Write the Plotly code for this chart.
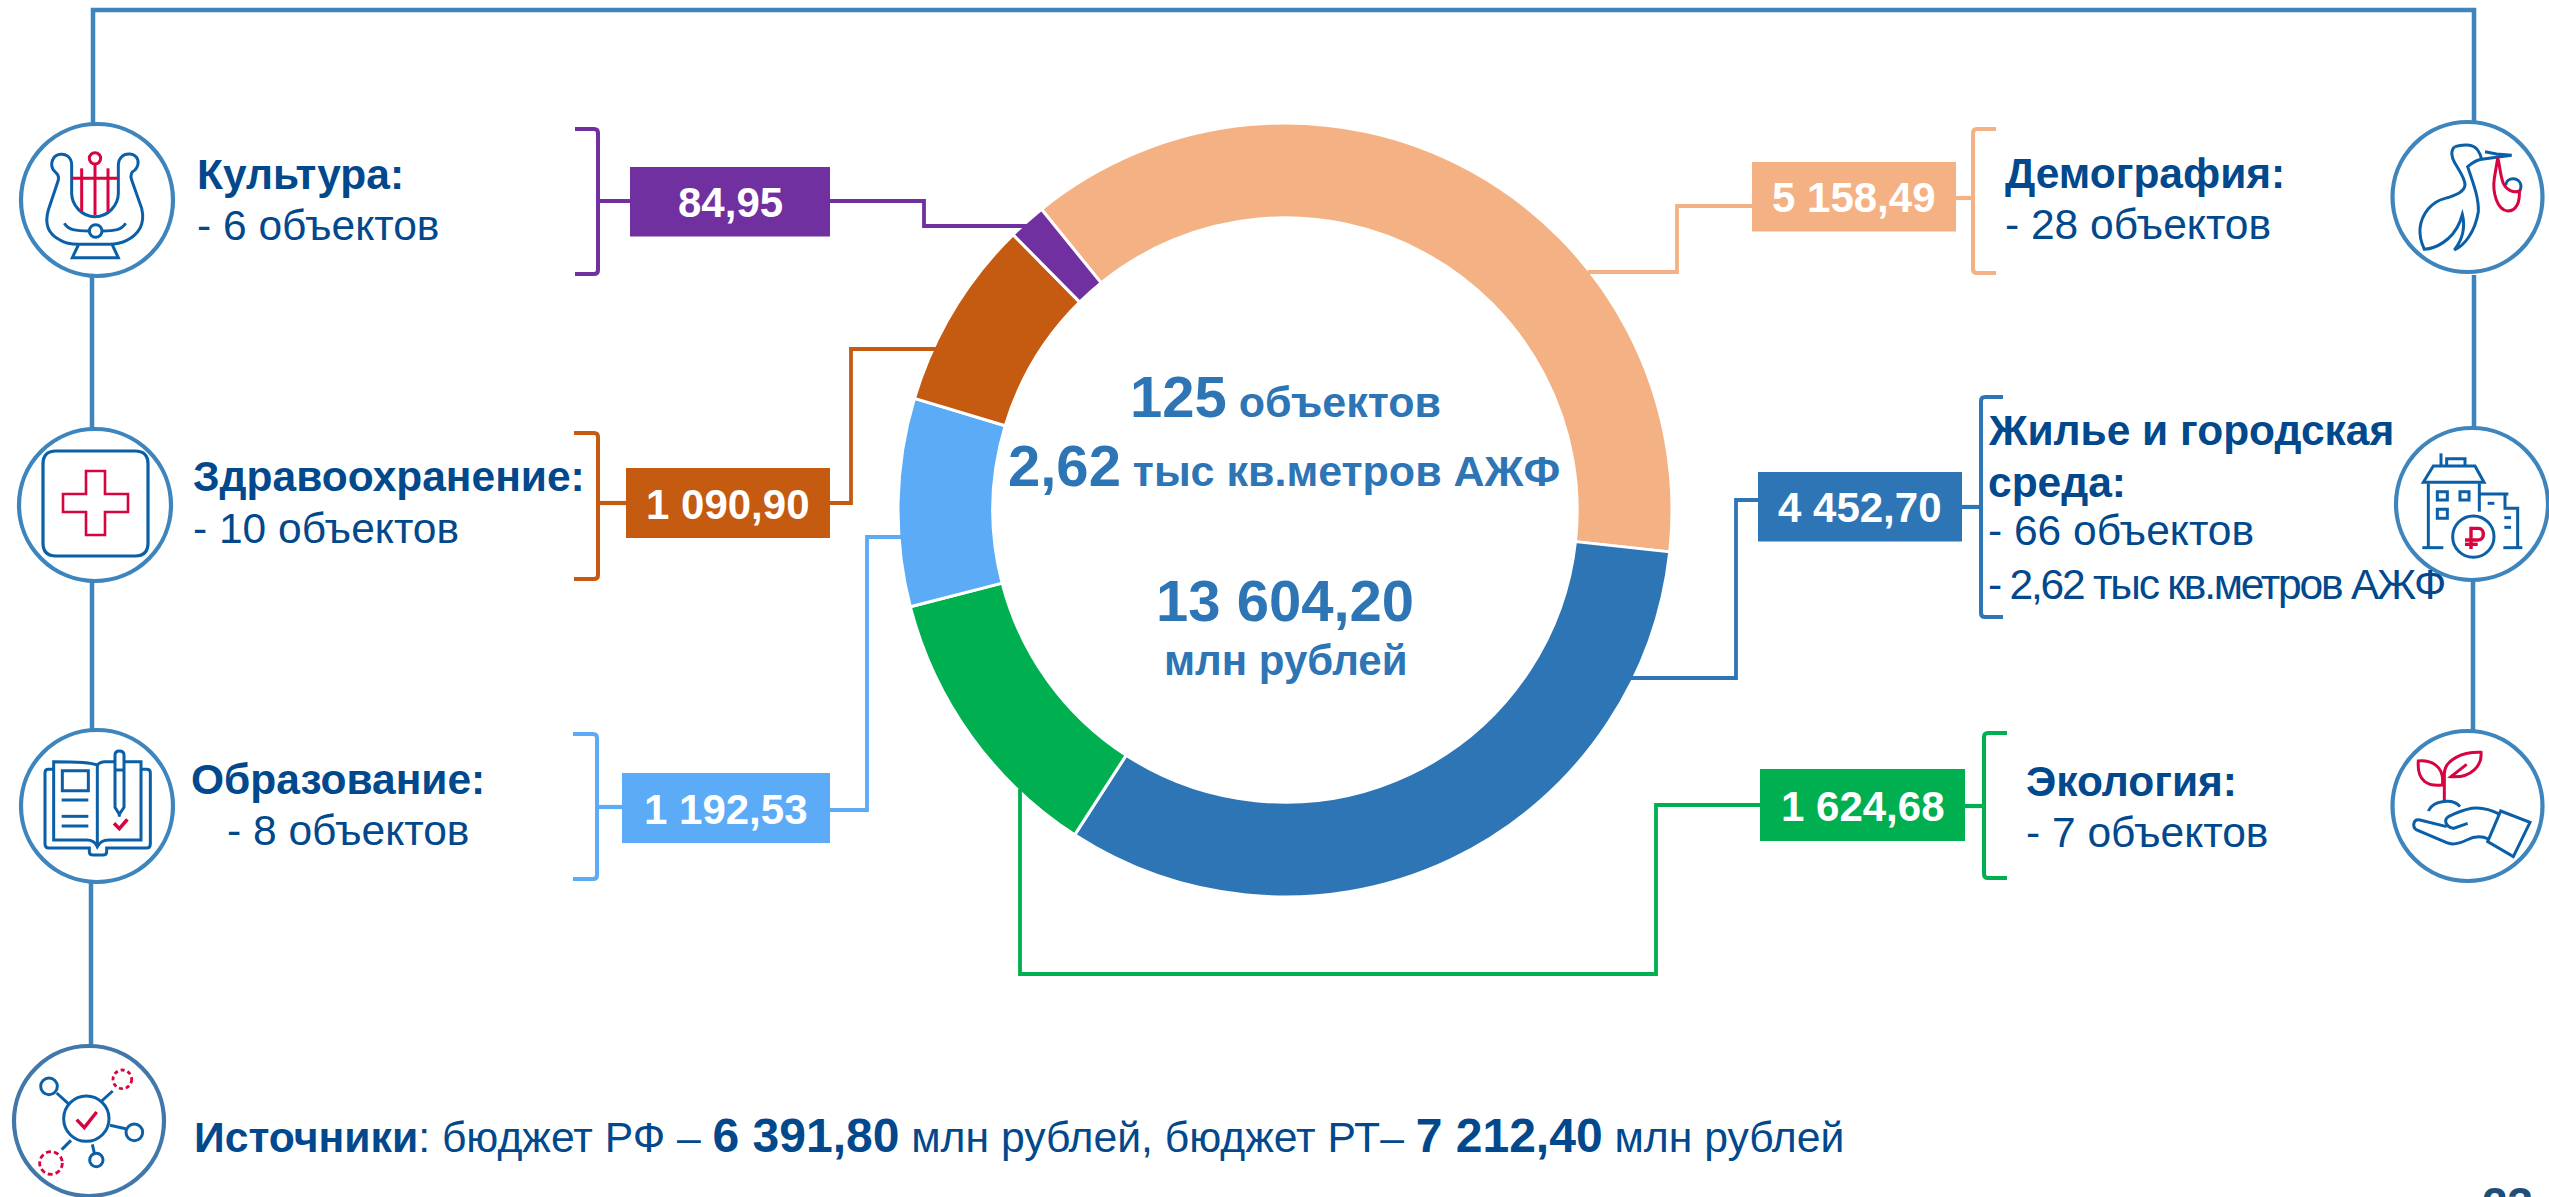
import plotly.graph_objects as go

# ---------- data ----------
categories = ["Демография", "Жилье и городская среда", "Экология", "Образование", "Здравоохранение", "Культура"]
# sums printed on the slide
values = [5158.49, 4452.70, 1624.68, 1192.53, 1090.90, 84.95]
value_labels = ["5 158,49", "4 452,70", "1 624,68", "1 192,53", "1 090,90", "84,95"]
# arcs as measured on the picture: the "Культура" arc is visibly wider than its printed sum
arc_values = [5158.49, 4452.70, 1624.68, 1192.53, 1090.90, 215.0]
object_counts = [28, 66, 7, 8, 10, 6]
total_objects = "125"
total_area = "2,62"
total_label = "13 604,20"
budget_rf = "6 391,80"
budget_rt = "7 212,40"
page_number = "23"

# ---------- style / layout ----------
W, H = 2549, 1197
FONT = "Liberation Sans"
colors = ["#F4B183", "#2E75B6", "#00B050", "#5BABF6", "#C55A11", "#7030A0"]
TXT = "#02488C"
CENTER = "#2E75B6"
FRAME = "#3D85BC"
ICON = "#0B5FA6"
RED = "#D8043F"
SIDE = 42.5

cx, cy, R = 1285, 510, 387
shapes, annos = [], []


def X(v):
    return v / W


def Y(v):
    return 1 - v / H


def line(pts, color, width=3):
    d = "M" + " L".join(f"{X(a):.6f},{Y(b):.6f}" for a, b in pts)
    shapes.append(dict(type="path", xref="paper", yref="paper", path=d,
                       line=dict(color=color, width=width)))


def rect(x0, y0, x1, y1, fill):
    shapes.append(dict(type="rect", xref="paper", yref="paper", x0=X(x0), x1=X(x1),
                       y0=Y(y1), y1=Y(y0), fillcolor=fill, line=dict(width=0)))


def circle(a, b, r, color, width=4.2, dash="solid"):
    shapes.append(dict(type="circle", xref="paper", yref="paper", x0=X(a - r), x1=X(a + r),
                       y0=Y(b + r), y1=Y(b - r), line=dict(color=color, width=width, dash=dash)))


def text(x, y, s, size=SIDE, color=TXT, anchor="left", bold=False):
    annos.append(dict(xref="paper", yref="paper", x=X(x), y=Y(y), text=f"<b>{s}</b>" if bold else s,
                      showarrow=False, xanchor=anchor, yanchor="middle",
                      font=dict(family=FONT, size=size, color=color), borderpad=0, borderwidth=0))


def bracket_left_open(x0, x1, y0, y1, color):
    """bracket whose spine is on the right side"""
    d = (f"M{X(x0)},{Y(y0)} L{X(x1-4)},{Y(y0)} Q{X(x1)},{Y(y0)} {X(x1)},{Y(y0+4)} "
         f"L{X(x1)},{Y(y1-4)} Q{X(x1)},{Y(y1)} {X(x1-4)},{Y(y1)} L{X(x0)},{Y(y1)}")
    shapes.append(dict(type="path", xref="paper", yref="paper", path=d, line=dict(color=color, width=4)))


def bracket_right_open(x0, x1, y0, y1, color):
    """bracket whose spine is on the left side"""
    d = (f"M{X(x1)},{Y(y0)} L{X(x0+4)},{Y(y0)} Q{X(x0)},{Y(y0)} {X(x0)},{Y(y0+4)} "
         f"L{X(x0)},{Y(y1-4)} Q{X(x0)},{Y(y1)} {X(x0+4)},{Y(y1)} L{X(x1)},{Y(y1)}")
    shapes.append(dict(type="path", xref="paper", yref="paper", path=d, line=dict(color=color, width=4)))


def glyph(ox, oy, path, color=ICON, width=3.0):
    """path is written in 3x-local units, relative to (ox, oy)"""
    out = []
    for tok in path.replace(",", " ").split():
        if tok[0].isalpha():
            out.append(tok[0])
            tok = tok[1:]
            if not tok:
                continue
        out.append(tok)
    res, is_x = [], True
    for tok in out:
        if tok.isalpha():
            res.append(tok)
            is_x = True
        else:
            v = float(tok) / 3
            res.append(f"{X(ox + v):.6f}" if is_x else f"{Y(oy + v):.6f}")
            is_x = not is_x
    shapes.append(dict(type="path", xref="paper", yref="paper", path=" ".join(res),
                       line=dict(color=color, width=width)))


def gcircle(ox, oy, a, b, r, color=ICON, width=3.0, dash="solid"):
    circle(ox + a / 3, oy + b / 3, r / 3, color, width, dash)


def grect(ox, oy, a0, b0, a1, b1, color=ICON, width=3.0):
    glyph(ox, oy, f"M{a0} {b0} L{a1} {b0} L{a1} {b1} L{a0} {b1} Z", color, width)


# ---------- frame ----------
line([(93, 124), (93, 10), (2474, 10), (2474, 122)], FRAME, 4.5)
line([(92, 277), (92, 428)], FRAME, 4.5)
line([(92, 582), (92, 729)], FRAME, 4.5)
line([(91, 883), (91, 1046)], FRAME, 4.5)
line([(2474, 275), (2474, 428)], FRAME, 4.5)
line([(2473, 581), (2473, 730)], FRAME, 4.5)

circle(97, 200, 76, FRAME)
circle(95, 505, 76, FRAME)
circle(97, 806, 76, FRAME)
circle(89, 1121, 75, "#4278A9")
circle(2467.5, 197, 75, FRAME)
circle(2472, 504, 76, FRAME)
circle(2467.5, 806, 75, FRAME)

# ---------- connectors, brackets, value boxes ----------
i_dem, i_hou, i_eco, i_edu, i_hea, i_cul = range(6)

boxes = {
    i_cul: (630, 167, 830, 236.5),
    i_hea: (626, 468, 830, 538),
    i_edu: (622, 773, 830, 843),
    i_dem: (1752, 162, 1956, 231.5),
    i_hou: (1758, 472, 1962, 541.5),
    i_eco: (1760, 769, 1965, 841),
}
conn = {
    i_cul: [(830, 201), (924, 201), (924, 226), (1029, 226)],
    i_hea: [(830, 503), (851, 503), (851, 349), (937, 349)],
    i_edu: [(830, 810), (867, 810), (867, 537), (901, 537)],
    i_dem: [(1752, 206), (1677, 206), (1677, 272), (1588, 272)],
    i_hou: [(1758, 500), (1736, 500), (1736, 678), (1631, 678)],
    i_eco: [(1760, 805), (1656, 805), (1656, 974), (1020, 974), (1020, 789)],
}
stub = {
    i_cul: [(598, 201), (630, 201)],
    i_hea: [(598, 503), (626, 503)],
    i_edu: [(597, 807), (622, 807)],
    i_dem: [(1956, 198), (1973, 198)],
    i_hou: [(1962, 507), (1981, 507)],
    i_eco: [(1965, 806), (1984, 806)],
}
for k in range(6):
    line(conn[k], colors[k], 3.8)
    line(stub[k], colors[k], 4.2)
    rect(*boxes[k], colors[k])
    b = boxes[k]
    text((b[0] + b[2]) / 2, (b[1] + b[3]) / 2 + 1, value_labels[k], 42, "#FFFFFF", "center", True)

bracket_left_open(575, 598, 129, 274, colors[i_cul])
bracket_left_open(574, 598, 433, 579, colors[i_hea])
bracket_left_open(573, 597, 734, 879, colors[i_edu])
bracket_right_open(1973, 1996, 129, 273, colors[i_dem])
bracket_right_open(1981, 2003, 397, 617, colors[i_hou])
bracket_right_open(1984, 2007, 733, 878, colors[i_eco])

# ---------- side labels ----------
obj = lambda n: f"- {n} объектов"
text(197, 174, f"<b>{categories[i_cul]}:</b>")
text(197, 225, obj(object_counts[i_cul]))
text(193, 476, f"<b>{categories[i_hea]}:</b>")
text(193, 528, obj(object_counts[i_hea]))
text(191, 779, "<b>Образование:</b>")
text(227, 830, obj(object_counts[i_edu]))
text(2005, 173, f"<b>{categories[i_dem]}:</b>")
text(2005, 224, obj(object_counts[i_dem]))
text(1988, 430, "<b>Жилье и городская</b>")
text(1988, 482, "<b>среда:</b>")
text(1988, 530, obj(object_counts[i_hou]))
text(1988, 584, f'<span style="letter-spacing:-2.2px">- {total_area} тыс кв.метров АЖФ</span>')
text(2026, 781, f"<b>{categories[i_eco]}:</b>")
text(2026, 832, obj(object_counts[i_eco]))

text(194, 1135,
     f'<b>Источники</b>: бюджет РФ – <b><span style="font-size:48px">{budget_rf}</span></b> млн рублей, '
     f'бюджет РТ– <b><span style="font-size:48px">{budget_rt}</span></b> млн рублей', 42.7)

# ---------- centre ----------
text(1285, 396, f'<span style="font-size:58px">{total_objects}</span> объектов', 43, CENTER, "center", True)
text(1284, 465, f'<span style="font-size:58px">{total_area}</span> тыс кв.метров АЖФ', 43, CENTER, "center", True)
text(1285, 600, total_label, 58, CENTER, "center", True)
text(1285, 660, "млн рублей", 42, CENTER, "center", True)

# page number, only the top of it is visible
annos.append(dict(xref="paper", yref="paper", x=X(2507), y=Y(1176), text=f"<b>{page_number}</b>",
                  showarrow=False, xanchor="center", yanchor="top",
                  font=dict(family=FONT, size=46, color="#1F4E79")))

# ---------- icons ----------
# lyre
o = (10, 115)
glyph(*o, "M185 235 L185 150 C185 125 165 115 150 118 C130 120 118 145 130 165 C140 175 148 180 145 195 L115 285 "
          "C105 320 110 355 150 375 C165 385 185 388 205 388 L300 388 C330 388 370 375 390 340 C400 320 400 300 395 280 "
          "L365 195 C360 180 365 170 375 165 C392 145 385 120 360 117 C340 115 325 130 325 150 L325 235 "
          "C325 270 295 305 255 305 C215 305 185 270 185 235 Z")
glyph(*o, "M163 325 C175 345 195 348 238 348")
glyph(*o, "M276 348 C315 348 335 345 347 325")
gcircle(*o, 257, 348, 19)
glyph(*o, "M205 390 L187 428 L325 428 L307 390")
gcircle(*o, 255, 130, 17, RED)
glyph(*o, "M255 148 L255 300", RED)
glyph(*o, "M215 160 L215 290", RED)
glyph(*o, "M294 160 L294 290", RED)
glyph(*o, "M185 190 L325 190", RED)

# medical cross: local units are 3 x (pixel - origin)
o = (10, 420)
sx = lambda v: (v - o[0]) * 3
sy = lambda v: (v - o[1]) * 3
c = 13
glyph(*o, f"M{sx(43+c)} {sy(451)} L{sx(148-c)} {sy(451)} Q{sx(148)} {sy(451)} {sx(148)} {sy(451+c)} "
          f"L{sx(148)} {sy(556-c)} Q{sx(148)} {sy(556)} {sx(148-c)} {sy(556)} L{sx(43+c)} {sy(556)} "
          f"Q{sx(43)} {sy(556)} {sx(43)} {sy(556-c)} L{sx(43)} {sy(451+c)} Q{sx(43)} {sy(451)} {sx(43+c)} {sy(451)} Z", ICON, 3.2)
glyph(*o, f"M{sx(86)} {sy(471)} L{sx(105)} {sy(471)} L{sx(105)} {sy(494)} L{sx(128)} {sy(494)} "
          f"L{sx(128)} {sy(512)} L{sx(105)} {sy(512)} L{sx(105)} {sy(535)} L{sx(86)} {sy(535)} "
          f"L{sx(86)} {sy(512)} L{sx(63)} {sy(512)} L{sx(63)} {sy(494)} L{sx(86)} {sy(494)} Z", RED, 2.6)

# book
o = (10, 720)
glyph(*o, "M130 148 L115 148 Q105 148 105 158 L105 372 Q105 384 117 384 L238 384 L238 395 Q238 405 250 405 "
          "L278 405 Q290 405 290 395 L290 384 L410 384 Q421 384 421 372 L421 158 Q421 148 410 148 L395 148")
glyph(*o, "M313 125 L285 125 C272 125 266 130 262 135 C240 125 150 125 131 125 L131 360 L230 360 C250 360 258 370 262 380 "
          "C268 370 275 360 295 360 L393 360 L393 125 L345 125")
glyph(*o, "M262 135 L262 380")
grect(*o, 157, 152, 235, 212)
glyph(*o, "M155 240 L235 240")
glyph(*o, "M155 289 L235 289")
glyph(*o, "M155 318 L235 318")
glyph(*o, "M315 105 Q315 93 328 93 Q342 93 342 105 L342 262 L328 283 L315 262 Z")
glyph(*o, "M315 150 L342 150")
glyph(*o, "M328 283 L328 290")
glyph(*o, "M312 310 L328 326 L352 298", RED, 3.6)

# network
o = (5, 1037)
gcircle(*o, 244, 245, 68)
gcircle(*o, 132, 148, 25)
gcircle(*o, 388, 286, 25)
gcircle(*o, 274, 369, 20)
gcircle(*o, 352, 127, 28, RED, 2.8, "4px,3px")
gcircle(*o, 138, 378, 34, RED, 2.8, "5px,3px")
for seg in ["M155 168 L190 200", "M290 192 L323 162", "M315 265 L362 275", "M262 322 L268 348", "M198 310 L170 338"]:
    glyph(*o, seg)
glyph(*o, "M215 248 L238 272 L275 225", RED, 3.4)

# stork
o = (2385, 115)
glyph(*o, "M210 95 C195 105 200 130 210 145 C225 170 240 190 240 210 C238 230 215 240 180 250 C140 260 110 295 105 340 "
          "C103 365 112 390 118 403 C150 400 200 380 225 320 L232 298 C240 330 235 370 208 405 C240 390 270 350 280 290 "
          "C282 250 265 205 248 155 C260 145 275 135 290 133 L380 121 L335 117 L300 110")
glyph(*o, "M210 95 C230 88 265 85 278 105 C285 115 288 125 290 133")
glyph(*o, "M362 210 C365 185 405 185 408 212 C408 222 405 228 403 232")
glyph(*o, "M338 130 L328 190 C322 230 335 285 368 288 C395 288 405 260 403 228 C385 235 365 225 355 205 C345 180 345 150 338 130", RED)

# house
o = (2385, 420)
glyph(*o, "M115 187 L145 138 L270 138 L297 187 Z")
glyph(*o, "M168 100 L168 135")
glyph(*o, "M185 135 L185 116 L240 116 L240 135")
glyph(*o, "M130 190 L130 383")
glyph(*o, "M283 190 L283 275")
glyph(*o, "M112 383 L175 383")
glyph(*o, "M355 383 L412 383")
glyph(*o, "M285 222 L370 222")
glyph(*o, "M360 222 L360 265 L398 265 L398 383")
grect(*o, 157, 215, 187, 240)
grect(*o, 225, 215, 252, 240)
grect(*o, 157, 268, 187, 295)
glyph(*o, "M308 250 L328 250")
glyph(*o, "M358 293 L378 293")
glyph(*o, "M358 322 L378 322")
gcircle(*o, 265, 350, 62)
glyph(*o, "M258 387 L258 325 L280 325 C300 325 300 360 280 360 L240 360", RED, 3.4)
glyph(*o, "M240 373 L278 373", RED, 3.4)

# seedling
o = (2385, 725)
glyph(*o, "M178 225 L178 140", RED)
glyph(*o, "M100 108 C135 105 180 120 172 180 C130 185 95 170 100 108 Z", RED)
glyph(*o, "M178 145 C180 105 230 80 288 82 C292 120 260 160 198 155 L245 118", RED)
glyph(*o, "M130 258 C145 225 205 220 225 245")
glyph(*o, "M345 268 C320 255 290 245 260 250 C235 255 210 265 190 275 C175 285 182 305 205 310 L248 295")
glyph(*o, "M185 305 L105 285 C85 280 80 305 95 315 L185 353 C205 362 225 355 245 345 C265 335 285 330 310 342")
glyph(*o, "M347 258 L435 292 L385 395 L308 350 Z")

# ---------- figure ----------
fig = go.Figure(go.Pie(
    labels=categories, values=arc_values, hole=0.755, sort=False, direction="clockwise", rotation=321,
    marker=dict(colors=colors, line=dict(color="#FFFFFF", width=3)),
    textinfo="none", hoverinfo="label", showlegend=False,
    domain=dict(x=[X(cx - R), X(cx + R)], y=[Y(cy + R), Y(cy - R)]),
))
fig.update_layout(width=W, height=H, margin=dict(l=0, r=0, t=0, b=0), autosize=False,
                  paper_bgcolor="#FFFFFF", plot_bgcolor="#FFFFFF", shapes=shapes, annotations=annos,
                  font=dict(family=FONT))
fig.write_html("out.html", config=dict(displayModeBar=False),
               post_script="document.body.style.margin='0';document.body.style.overflow='hidden';")
